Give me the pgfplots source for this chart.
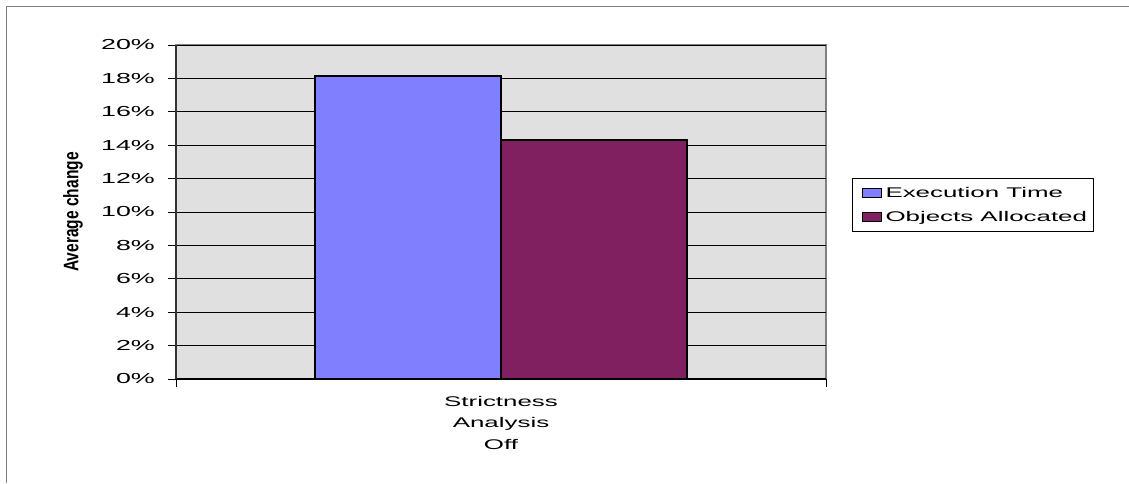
\documentclass[border=0pt]{standalone}
\usepackage{fontspec}
\setmainfont{Liberation Sans}
\newfontfamily\widefont[FakeStretch=1.85]{Liberation Sans}
\newfontfamily\narrowfont[FakeStretch=0.74]{Liberation Sans}
\usepackage{pgfplots}
\pgfplotsset{compat=1.18}
\definecolor{bggray}{RGB}{224,224,224}
\definecolor{barblue}{RGB}{128,128,255}
\definecolor{barmaroon}{RGB}{128,32,96}
\definecolor{framegray}{RGB}{128,128,128}
\begin{document}
\begin{tikzpicture}
\useasboundingbox (0,0) rectangle (1129pt,483pt);
\draw[framegray, line width=1.5pt] (6.5pt,0) -- (6.5pt,476.5pt) -- (1129pt,476.5pt);
\begin{axis}[
  at={(176pt,104pt)}, anchor=south west,
  scale only axis, width=650pt, height=334pt,
  xmin=-1, xmax=1, ymin=0, ymax=20,
  ybar=0pt, bar width=186pt,
  axis lines=left,
  axis background/.style={fill=bggray, draw=framegray, line width=2.5pt},
  x axis line style={black, line width=1.5pt, -},
  y axis line style={black!80, line width=2pt, -},
  ymajorgrids, grid style={black, line width=0.8pt},
  tick align=outside, major tick length=8pt,
  tick style={black, line width=1pt},
  ytick={0,2,4,6,8,10,12,14,16,18,20},
  yticklabels={0\%,2\%,4\%,6\%,8\%,10\%,12\%,14\%,16\%,18\%,20\%},
  yticklabel style={font=\widefont\fontsize{14.5}{17}\selectfont, inner sep=0pt, xshift=-13pt},
  xtick={-1,1}, xticklabels={,},
  extra x ticks={0}, extra x tick labels={Strictness\\Analysis\\Off},
  extra x tick style={major tick length=0pt, xticklabel style={align=center, font=\widefont\fontsize{14}{21.5}\selectfont, inner sep=0pt, yshift=-17pt}},
  ylabel={Average change},
  every axis y label/.style={at={(axis description cs:-0.1585,0.5)}, rotate=90, anchor=center, font=\narrowfont\bfseries\fontsize{21}{24}\selectfont},
  legend style={at={(1.04,0.6018)}, anchor=north west, draw=black, line width=1pt, font=\widefont\fontsize{14}{17}\selectfont, inner xsep=4pt, inner ysep=7pt, row sep=8pt},
  legend cell align=left,
  legend image code/.code={\draw[#1, draw=black, line width=1.2pt] (6pt,-4.5pt) rectangle (25pt,4.5pt); \path[draw=none, fill=none] (0pt,0pt) -- (27pt,0pt);},
]
\addplot[fill=barblue, draw=black, line width=1.5pt] coordinates {(0,18.15)};
\addplot[fill=barmaroon, draw=black, line width=1.5pt] coordinates {(0,14.3)};
\legend{Execution Time, Objects Allocated}
\end{axis}
\end{tikzpicture}
\end{document}
